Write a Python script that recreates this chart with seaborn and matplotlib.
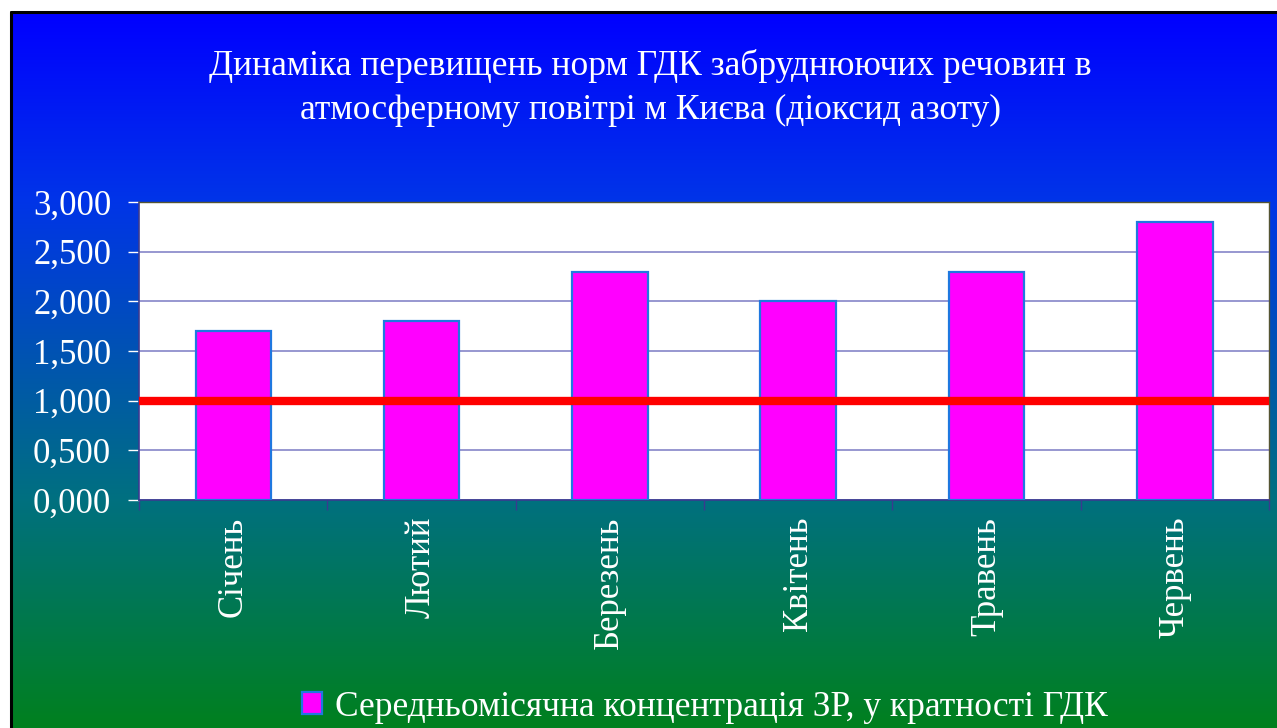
import numpy as np
import pandas as pd
import matplotlib as mpl
mpl.use('Agg')
import matplotlib.pyplot as plt
from matplotlib.ticker import FixedLocator
import seaborn as sns

sns.set_style('white')
plt.rcParams['font.family'] = ['Liberation Serif', 'DejaVu Serif']

# data
months = ['Січень', 'Лютий', 'Березень', 'Квітень', 'Травень', 'Червень']
conc = [1.7, 1.8, 2.3, 2.0, 2.3, 2.8]
limit_level = 1.0
y_ticks = [0.0, 0.5, 1.0, 1.5, 2.0, 2.5, 3.0]
y_labels = ['0,000', '0,500', '1,000', '1,500', '2,000', '2,500', '3,000']
title = ('Динаміка перевищень норм ГДК забруднюючих речовин в\n'
         'атмосферному повітрі м Києва (діоксид азоту)')
legend_label = 'Середньомісячна концентрація ЗР, у кратності ГДК'

df = pd.DataFrame({'month': months, 'value': conc})

W, H = 1277, 728
fig = plt.figure(figsize=(W / 100, H / 100), dpi=100)
fig.patch.set_facecolor('white')

# gradient background panel (blue -> teal -> green)
bg = fig.add_axes([12 / W, 0, 1 - 12 / W, (H - 13) / H])
pos = np.array([0.0, 0.26, 0.68, 1.0])
reds = np.array([0, 0, 0, 0]) / 255
greens = np.array([0, 52, 112, 128]) / 255
blues = np.array([255, 232, 128, 30]) / 255
t = np.linspace(0, 1, 400)
grad = np.stack([np.interp(t, pos, reds), np.interp(t, pos, greens),
                 np.interp(t, pos, blues)], axis=-1)[:, None, :]
bg.imshow(grad, aspect='auto', extent=[0, 1, 0, 1], origin='upper')
bg.set_axis_off()

# black border lines at top and left of panel
fig.add_artist(plt.Line2D([10.5 / W, 1], [1 - 11.5 / H, 1 - 11.5 / H],
                          color='black', lw=2.2))
fig.add_artist(plt.Line2D([10.5 / W, 10.5 / W], [0, 1 - 11.5 / H],
                          color='black', lw=2.2))

# title
fig.text(650 / W, 1 - 88 / H, title, ha='center', va='center', color='white',
         fontsize=25.5, linespacing=1.45)

# main plot
ax = fig.add_axes([139 / W, (H - 500) / H, (1269 - 139) / W, 298 / H])
ax.set_facecolor('white')
sns.barplot(data=df, x='month', y='value', color='#FF00FF', width=0.4,
            edgecolor='#1F78E0', linewidth=1.6, saturation=1, ax=ax,
            label=legend_label, zorder=3)
if ax.get_legend() is not None:
    ax.get_legend().remove()
ax.axhline(limit_level, color='#FF0000', lw=6, zorder=4, clip_on=False,
           solid_capstyle='butt')

ax.set_ylim(0, 3)
ax.set_xlim(-0.5, len(months) - 0.5)
ax.yaxis.set_major_locator(FixedLocator(y_ticks))
ax.set_yticklabels(y_labels)
ax.yaxis.grid(True, color='#7B7BC4', lw=1.1, zorder=0)
ax.set_axisbelow(True)
ax.tick_params(axis='y', colors='white', labelsize=25, length=8, width=1,
               direction='out', pad=12, left=True)
for tl in ax.yaxis.get_ticklines():
    tl.set_color('#3A3A90')

ax.set_xticks(range(len(months)))
ax.set_xticklabels(months, rotation=90, va='top')
ax.tick_params(axis='x', colors='white', labelsize=25, length=0, pad=12)
ax.set_xticks(np.arange(-0.5, len(months), 1), minor=True)
ax.tick_params(axis='x', which='minor', length=7, width=1, color='#3A3A90',
               direction='out', bottom=True)
ax.set_xlabel('')
ax.set_ylabel('')

for side in ['left', 'bottom']:
    ax.spines[side].set_color('#3A3A90')
    ax.spines[side].set_linewidth(1.2)
ax.spines['top'].set_color('#555533')
ax.spines['right'].set_color('#555533')
ax.spines['top'].set_linewidth(1)
ax.spines['right'].set_linewidth(1)

# legend
handles = [ax.patches[0]]
leg = fig.legend(handles, [legend_label], loc='center', ncol=1,
                 bbox_to_anchor=(705 / W, 1 - 707 / H), frameon=False,
                 fontsize=25.5, handlelength=0.55, handleheight=0.55,
                 handletextpad=0.37, labelcolor='white')

fig.savefig('out.png', dpi=100, facecolor=fig.get_facecolor())
